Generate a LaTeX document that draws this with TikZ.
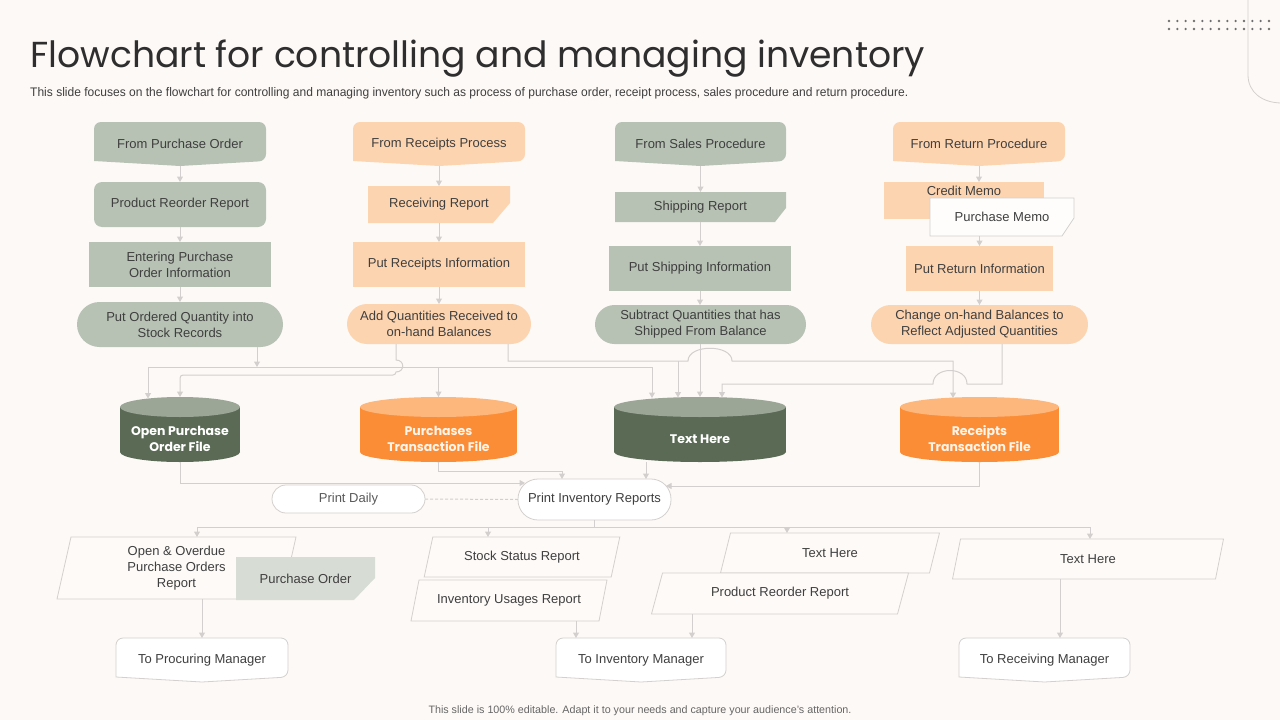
\documentclass[tikz,border=0pt]{standalone}
\usepackage{fontspec}
\setmainfont{Liberation Sans}
\newfontfamily\titlefont{Poppins}
\usepackage{graphicx}
\usetikzlibrary{arrows.meta}
\definecolor{bgc}{HTML}{FDF9F6}
\definecolor{sage}{HTML}{B7C2B4}
\definecolor{peach}{HTML}{FDD4B0}
\definecolor{dgbody}{HTML}{5A6A55}
\definecolor{dgtop}{HTML}{9CA697}
\definecolor{orbody}{HTML}{FB8D36}
\definecolor{ortop}{HTML}{FDB67C}
\definecolor{pofill}{HTML}{D7DDD4}
\definecolor{linec}{HTML}{D2CFCE}
\definecolor{bordc}{HTML}{D3D0CE}
\definecolor{txtc}{HTML}{3F3F3F}
\definecolor{paraf}{HTML}{FDFAF8}
\definecolor{dotc}{HTML}{6E6E6E}
\pgfdeclarelayer{canvas}
\pgfdeclarelayer{back}
\pgfsetlayers{canvas,back,main}
\newcommand\shpRect[2]{\path[#2] (#1.north west) rectangle (#1.south east);}
\newcommand\shpOff[2]{\path[#2,rounded corners=7pt] ([yshift=5pt]#1.south west) |- (#1.north) -| ([yshift=5pt]#1.south east) [sharp corners] -- (#1.south) -- cycle;}
\newcommand\shpCut[4]{\path[#2] (#1.north west) -- (#1.north east) -- ([yshift=#4]#1.south east) -- ([xshift=-#3]#1.south east) -- (#1.south west) -- cycle;}
\newcommand\shpPara[3]{\path[#2] ([xshift=#3]#1.north west) -- ([xshift=#3]#1.north east) -- ([xshift=-#3]#1.south east) -- ([xshift=-#3]#1.south west) -- cycle;}
\newcommand\shpCyl[4]{%
 \fill[#2] ([yshift=-10pt]#1.north west) rectangle ([yshift=10pt]#1.south east);
 \fill[#2] ([yshift=10pt]#1.south) ellipse[x radius=#4, y radius=10pt];
 \fill[#3] ([yshift=-10pt]#1.north) ellipse[x radius=#4, y radius=10pt];}
\begin{document}
\begin{tikzpicture}[x=1pt,y=-1pt,
  T/.style={font=\fontsize{13}{16}\selectfont, text=txtc, align=center, inner sep=0pt, outer sep=0pt},
  hold/.style={inner sep=0pt, outer sep=0pt},
  sz/.style 2 args={minimum width=#1pt, minimum height=#2pt},
  CT/.style={font=\titlefont\bfseries\fontsize{12.5}{16}\selectfont, align=center, inner sep=0pt},
  conn/.style={draw=linec, line width=1pt},
  arr/.style={conn, -{Triangle[length=5.5pt,width=6pt]}},
  wbox/.style={fill=white, draw=bordc, line width=0.8pt},
  pbox/.style={fill=paraf, draw=bordc, line width=0.8pt}]
\begin{pgfonlayer}{canvas}
\fill[bgc] (0,0) rectangle (1280,720);
\end{pgfonlayer}
\useasboundingbox (0,0) rectangle (1280,720);

% decoration top right
\foreach \i in {0,...,12} {
  \fill[dotc] (1169+\i*8.33,21) circle[radius=1.3pt];
  \fill[dotc] (1169+\i*8.33,29) circle[radius=1.3pt];
}
\draw[bordc, line width=0.8pt] (1248,-2) -- (1248,75) .. controls (1248,92) and (1262,103) .. (1282,103);

% title
\node[anchor=base west, inner sep=0pt, text=black!82] (title) at (30,67) {\resizebox{895pt}{!}{\titlefont Flowchart for controlling and managing inventory}};
\node[anchor=base west, inner sep=0pt, text=txtc] (subtitle) at (30,96) {\resizebox{878pt}{9pt}{\fontsize{12}{14}\selectfont This slide focuses on the flowchart for controlling and managing inventory such as process of purchase order, receipt process, sales procedure and return procedure.}};
\node[anchor=base, inner sep=0pt, text=black!60] (footer) at (640,713) {\resizebox{423pt}{!}{\fontsize{10.5}{12}\selectfont This slide is 100\% editable. Adapt it to your needs and capture your audience’s attention.}};

% column 1
\node[T,sz={172}{44}] (pfo) at (180,144) {From Purchase Order};
\node[T,sz={172}{45}] (prr1) at (180,204.5) {Product Reorder Report};
\node[T,sz={182}{45}] (epo) at (180,264.5) {Entering Purchase\\Order Information};
\node[T,sz={206}{45}] (putord) at (180,324.5) {Put Ordered Quantity into\\Stock Records};
% column 2
\node[T,sz={172}{44}] (frp) at (439,144) {From Receipts Process};
\node[T,sz={142}{37}] (rr) at (439,204.5) {Receiving Report};
\node[T,sz={172}{45}] (pri) at (439,264.5) {Put Receipts Information};
\node[T,sz={184}{40}] (addq) at (439,324) {Add Quantities Received to\\on-hand Balances};
% column 3
\node[T,sz={171}{44}] (fsp) at (700.5,144) {From Sales Procedure};
\node[T,sz={171}{30}] (shr) at (700.5,207) {Shipping Report};
\node[T,sz={182}{45}] (psi) at (700,268.5) {Put Shipping Information};
\node[T,sz={211}{39}] (sub) at (700.5,324.5) {Subtract Quantities that has\\Shipped From Balance};
% column 4
\node[T,sz={172}{44}] (frt) at (979,144) {From Return Procedure};
\node[hold,sz={160}{37}] (credit) at (964,200.5) {};
\node[T] (creditt) at (964,191) {Credit Memo};
\node[T,sz={144}{38}] (pm) at (1002,217) {Purchase Memo};
\node[T,sz={147}{45}] (pret) at (979.5,268.5) {Put Return Information};
\node[T,sz={217}{39}] (chg) at (979.5,324.5) {Change on-hand Balances to\\Reflect Adjusted Quantities};

% cylinders
\node[hold,sz={120}{65}] (cylA) at (180,429.5) {};
\node[hold,sz={157}{65}] (cylB) at (438.5,429.5) {};
\node[hold,sz={172}{65}] (cylC) at (700,429.5) {};
\node[hold,sz={159}{65}] (cylD) at (979.5,429.5) {};
\node[CT,text=white] (cylAt) at (180,439) {Open Purchase\\Order File};
\node[CT,text=white!92!orange] (cylBt) at (438.5,439) {Purchases\\Transaction File};
\node[CT,text=white] (cylCt) at (700,439) {Text Here};
\node[CT,text=white!92!orange] (cylDt) at (979.5,439) {Receipts\\Transaction File};

% print nodes
\node[T,sz={153}{28},text=black!65] (pdaily) at (348.5,499) {Print Daily};
\node[T,sz={153}{41}] (pinv) at (594.5,499.5) {Print Inventory Reports};

% bottom reports
\node[T,sz={225}{62}] (od) at (176.5,568) {Open \& Overdue\\Purchase Orders\\Report};
\node[T,sz={139}{43}] (po) at (305.5,578.5) {Purchase Order};
\node[T,sz={187}{40}] (ss) at (522,557) {Stock Status Report};
\node[T,sz={188}{41}] (iu) at (509,600.5) {Inventory Usages Report};
\node[T,sz={209}{40}] (th1) at (830,553) {Text Here};
\node[T,sz={246}{41}] (prr2) at (780,593.5) {Product Reorder Report};
\node[T,sz={263}{40}] (th2) at (1088,559) {Text Here};
\node[T,sz={172}{44}] (tp) at (202,660) {To Procuring Manager};
\node[T,sz={170}{44}] (tinv) at (641,660) {To Inventory Manager};
\node[T,sz={171}{44}] (trecv) at (1044.5,660) {To Receiving Manager};

% shapes behind
\begin{pgfonlayer}{back}
\shpOff{pfo}{fill=sage}
\shpRect{prr1}{fill=sage, rounded corners=8pt}
\shpRect{epo}{fill=sage}
\shpRect{putord}{fill=sage, rounded corners=22.5pt}
\shpOff{frp}{fill=peach}
\shpCut{rr}{fill=peach}{17pt}{20pt}
\shpRect{pri}{fill=peach}
\shpRect{addq}{fill=peach, rounded corners=20pt}
\shpOff{fsp}{fill=sage}
\shpCut{shr}{fill=sage}{11pt}{14pt}
\shpRect{psi}{fill=sage}
\shpRect{sub}{fill=sage, rounded corners=19.5pt}
\shpOff{frt}{fill=peach}
\shpRect{credit}{fill=peach}
\shpCut{pm}{fill=white!70!bgc, draw=bordc, line width=0.8pt}{12pt}{18pt}
\shpRect{pret}{fill=peach}
\shpRect{chg}{fill=peach, rounded corners=19.5pt}
\shpCyl{cylA}{dgbody}{dgtop}{60pt}
\shpCyl{cylB}{orbody}{ortop}{78.5pt}
\shpCyl{cylC}{dgbody}{dgtop}{86pt}
\shpCyl{cylD}{orbody}{ortop}{79.5pt}
\shpRect{pdaily}{wbox, rounded corners=14pt}
\shpRect{pinv}{wbox, rounded corners=20pt}
\shpPara{od}{pbox}{7pt}
\shpCut{po}{fill=pofill}{21pt}{22pt}
\shpPara{ss}{pbox}{4.3pt}
\shpPara{iu}{pbox}{4pt}
\shpPara{th1}{pbox}{5pt}
\shpPara{prr2}{pbox}{5.5pt}
\shpPara{th2}{pbox}{4pt}
\shpOff{tp}{wbox}
\shpOff{tinv}{wbox}
\shpOff{trecv}{wbox}
\end{pgfonlayer}

% column arrows
\draw[arr] (pfo.south) -- (prr1.north);
\draw[arr] (prr1.south) -- (epo.north);
\draw[arr] (epo.south) -- (putord.north);
\draw[arr] (frp.south) -- (rr.north);
\draw[arr] (rr.south) -- (pri.north);
\draw[arr] (pri.south) -- (addq.north);
\draw[arr] (fsp.south) -- (shr.north);
\draw[arr] (shr.south -| psi.north) -- (psi.north);
\draw[arr] (psi.south) -- (sub.north -| psi.south);
\draw[arr] (frt.south) -- (frt.south |- credit.north);
\draw[arr] (pret.north |- pm.south) -- (pret.north);
\draw[arr] (pret.south) -- (chg.north);

% to cylinders
\coordinate (j1) at (148,367);
\coordinate (j2) at (652,367);
\draw[conn] (j1) -- (j2);
\draw[arr] ([xshift=77pt]putord.south) -- ([xshift=77pt]putord.south |- j1);
\draw[arr] (j1) -- ([yshift=-1.5pt]j1 |- cylA.north);
\draw[arr] (cylB.north |- j1) -- (cylB.north);
\draw[arr] (j2) -- ([yshift=-1pt]j2 |- cylC.north);

\coordinate (h1a) at (396,360);
\coordinate (h1b) at (396,372);
\coordinate (k1) at (180,375);
\draw[arr] (addq.south -| h1a) -- (h1a) .. controls +(9,0) and +(9,0) .. (h1b) [rounded corners=3pt] -- (h1b |- k1) -- (k1) -- (k1 |- cylA.north);

\coordinate (h2a) at (688,361);
\coordinate (h2b) at (732,361);
\coordinate (k2) at (678,361);
\coordinate (k3) at (953,361);
\draw[arr] ([xshift=69pt]addq.south) -- ([xshift=69pt]addq.south |- h2a) -- (h2a) .. controls +(0,-17) and +(0,-17) .. (h2b) -- (k3) -- ([yshift=-1pt]k3 |- cylD.north);
\draw[arr] (k2) -- ([yshift=-0.5pt]k2 |- cylC.north);
\draw[arr] (sub.south -| cylC.north) -- (cylC.north);

\coordinate (h3a) at (967,384);
\coordinate (h3b) at (933,384);
\coordinate (k4) at (722,384);
\draw[arr] ([xshift=22.5pt]chg.south) -- ([xshift=22.5pt]chg.south |- h3a) -- (h3a) .. controls +(0,-18) and +(0,-18) .. (h3b) -- (k4) -- ([yshift=-0.5pt]k4 |- cylC.north);

% from cylinders to print inventory
\coordinate (m1) at (180,483);
\draw[arr] (cylA.south) -- (m1) -- ([xshift=7pt,yshift=-4pt]pinv.north west);
\coordinate (m2) at (562,471);
\draw[arr] (cylB.south) -- (cylB.south |- m2) -- (m2) -- (m2 |- pinv.north);
\draw[arr] ([xshift=-54pt]cylC.south) -- ([xshift=-54pt]cylC.south |- pinv.north);
\coordinate (m4) at (979.5,486);
\draw[arr] (cylD.south) -- (m4) -- ([xshift=-5pt,yshift=13.5pt]pinv.east);
\draw[conn, dash pattern=on 3pt off 2pt] (pdaily.east) -- (pinv.west);

% distribution to reports
\coordinate (b3w) at (197,527);
\coordinate (b3a) at (488,527);
\coordinate (b3b) at (787,527);
\coordinate (b3e) at (1090,527);
\draw[conn] (pinv.south) -- (pinv.south |- b3w);
\draw[conn] (b3w) -- (b3e);
\draw[arr] (b3w) -- (b3w |- od.north);
\draw[arr] (b3a) -- (b3a |- ss.north);
\draw[arr] (b3b) -- (b3b |- th1.north);
\draw[arr] (b3e) -- (b3e |- th2.north);

% reports to managers
\draw[arr] (tp.north |- od.south) -- (tp.north);
\draw[arr] ([xshift=-65pt]tinv.north |- iu.south) -- ([xshift=-65pt]tinv.north);
\draw[arr] ([xshift=51pt]tinv.north |- prr2.south) -- ([xshift=51pt]tinv.north);
\draw[arr] ([xshift=15.5pt]trecv.north |- th2.south) -- ([xshift=15.5pt]trecv.north);
\end{tikzpicture}
\end{document}
